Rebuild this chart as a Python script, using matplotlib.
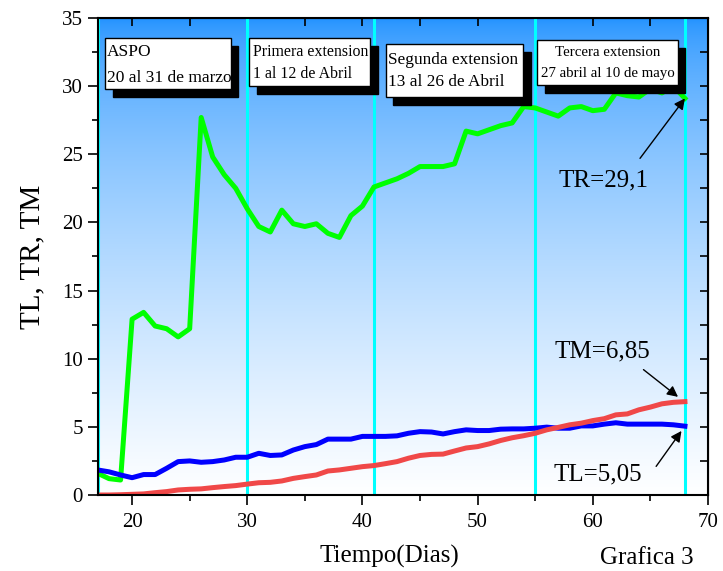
import matplotlib
matplotlib.use('Agg')
import matplotlib.pyplot as plt
from matplotlib.patches import Rectangle
from matplotlib.ticker import MultipleLocator
import numpy as np

plt.rcParams['font.family'] = ['Liberation Serif', 'DejaVu Serif']

# datos
dias = list(range(17, 69))
tr = [1.6, 1.2, 1.1, 12.9, 13.4, 12.4, 12.2, 11.6, 12.2, 27.7,
      24.8, 23.5, 22.5, 21.0, 19.7, 19.3, 20.9, 19.9, 19.7, 19.9,
      19.2, 18.9, 20.5, 21.2, 22.6, 22.9, 23.2, 23.6, 24.1, 24.1,
      24.1, 24.3, 26.7, 26.5, 26.8, 27.1, 27.3, 28.5, 28.4, 28.1,
      27.8, 28.4, 28.5, 28.2, 28.3, 29.5, 29.3, 29.2, 29.8, 29.5,
      30.0, 29.1]
tl = [1.84, 1.7, 1.47, 1.27, 1.5, 1.5, 1.96, 2.45, 2.5, 2.4,
      2.45, 2.57, 2.77, 2.77, 3.06, 2.9, 2.94, 3.3, 3.55, 3.7,
      4.1, 4.1, 4.1, 4.3, 4.3, 4.3, 4.34, 4.53, 4.65, 4.62,
      4.48, 4.65, 4.78, 4.73, 4.73, 4.83, 4.85, 4.85, 4.9, 4.98,
      4.9, 4.9, 5.07, 5.07, 5.2, 5.3, 5.2, 5.2, 5.2, 5.2,
      5.15, 5.05]
tm = [0.0, 0.0, 0.02, 0.05, 0.08, 0.17, 0.25, 0.37, 0.42, 0.45,
      0.54, 0.62, 0.69, 0.8, 0.9, 0.93, 1.03, 1.22, 1.35, 1.47,
      1.76, 1.84, 1.96, 2.08, 2.16, 2.3, 2.45, 2.7, 2.9, 2.98,
      3.0, 3.23, 3.45, 3.55, 3.75, 4.0, 4.2, 4.35, 4.53, 4.78,
      4.96, 5.15, 5.27, 5.46, 5.6, 5.88, 5.95, 6.25, 6.45, 6.69,
      6.8, 6.85]
cortes = [17, 30, 41, 55, 68]

fig = plt.figure(figsize=(7.23, 5.71), dpi=100)
ax = fig.add_axes([0.1349, 0.1331, 0.9792 - 0.1349, 0.9685 - 0.1331])

# fondo degradado azul (arriba) -> blanco (abajo)
top = np.array([30, 144, 255]) / 255.0
f = np.linspace(0, 1, 256) ** 0.6
grad = top[None, :] + (1 - top[None, :]) * f[:, None]
ax.imshow(grad[:, None, :], extent=(17, 70, 0, 35), origin='upper',
          aspect='auto', zorder=0, interpolation='bicubic')
ax.set_xlim(17, 70)
ax.set_ylim(0, 35)

for c in cortes:
    ax.axvline(c, color='#00FFFF', lw=2.2, zorder=1)

ax.plot(dias, tr, color='#00FF00', lw=3.6, zorder=3, solid_joinstyle='round')
ax.plot(dias, tl, color='#0000FF', lw=3.6, zorder=3, solid_joinstyle='round')
ax.plot(dias, tm, color='#F04848', lw=3.6, zorder=4, solid_joinstyle='round')

# cajas con sombra
cajas = [
    ((17.65, 29.79, 28.55, 33.53), ['ASPO', '20 al 31 de marzo'], [32.5, 30.56], 17.85, 12.5, 'left'),
    ((30.19, 30.0, 40.66, 33.53), ['Primera extension', '1 al 12 de Abril'], [32.5, 30.9], 30.5, 11.4, 'left'),
    ((42.03, 29.2, 53.97, 33.09), ['Segunda extension', '13 al 26 de Abril'], [31.95, 30.27], 42.2, 12.4, 'left'),
    ((55.19, 30.08, 67.39, 33.38), ['Tercera extension', '27 abril al 10 de mayo'], [32.47, 30.93], 61.3, 10.7, 'center'),
]
for (x0, y0, x1, y1), lineas, ys, tx, fs, ha in cajas:
    ax.add_patch(Rectangle((x0 + 0.65, y0 - 0.6), x1 - x0, y1 - y0,
                           facecolor='black', edgecolor='black', zorder=5))
    ax.add_patch(Rectangle((x0, y0), x1 - x0, y1 - y0,
                           facecolor='white', edgecolor='black', lw=1, zorder=6))
    for txt, yy in zip(lineas, ys):
        ax.text(tx, yy, txt, fontsize=fs, ha=ha, va='center', zorder=7)

# anotaciones
flecha = dict(arrowstyle='-|>', color='black', lw=1, mutation_scale=16,
              shrinkA=0, shrinkB=0)
ax.annotate('', xy=(68, 29.1), xytext=(64.1, 24.7), arrowprops=flecha, zorder=8)
ax.text(60.9, 23.1, 'TR=29,1', fontsize=18, ha='center', va='center')
ax.annotate('', xy=(67.4, 7.2), xytext=(64.4, 9.2), arrowprops=flecha, zorder=8)
ax.text(60.8, 10.5, 'TM=6,85', fontsize=18, ha='center', va='center')
ax.annotate('', xy=(67.7, 4.7), xytext=(65.5, 2.1), arrowprops=flecha, zorder=8)
ax.text(60.4, 1.5, 'TL=5,05', fontsize=18, ha='center', va='center')

# ejes
ax.xaxis.set_major_locator(MultipleLocator(10))
ax.xaxis.set_minor_locator(MultipleLocator(5))
ax.yaxis.set_major_locator(MultipleLocator(5))
ax.yaxis.set_minor_locator(MultipleLocator(2.5))
ax.tick_params(which='both', direction='out', top=False, right=False,
               labelsize=15, width=1.2)
ax.tick_params(which='major', length=7)
ax.tick_params(which='minor', length=4)
ax.tick_params(axis='x', pad=6)
for s in ax.spines.values():
    s.set_linewidth(1.5)
    s.set_zorder(10)

sec_x = ax.secondary_xaxis('top')
sec_x.set_xticks(np.arange(20, 71, 5))
sec_x.tick_params(direction='in', length=6, width=1.2)
sec_x.set_xticklabels([])
sec_y = ax.secondary_yaxis('right')
sec_y.set_yticks(np.arange(0, 36, 2.5))
sec_y.tick_params(direction='in', length=6, width=1.2)
sec_y.set_yticklabels([])

ax.set_ylabel('TL, TR, TM', fontsize=21, labelpad=12)
fig.text(0.538, 0.026, 'Tiempo(Dias)', fontsize=18, ha='center', va='center')
fig.text(0.895, 0.022, 'Grafica 3', fontsize=18, ha='center', va='center')

fig.savefig('out.png', dpi=100)
